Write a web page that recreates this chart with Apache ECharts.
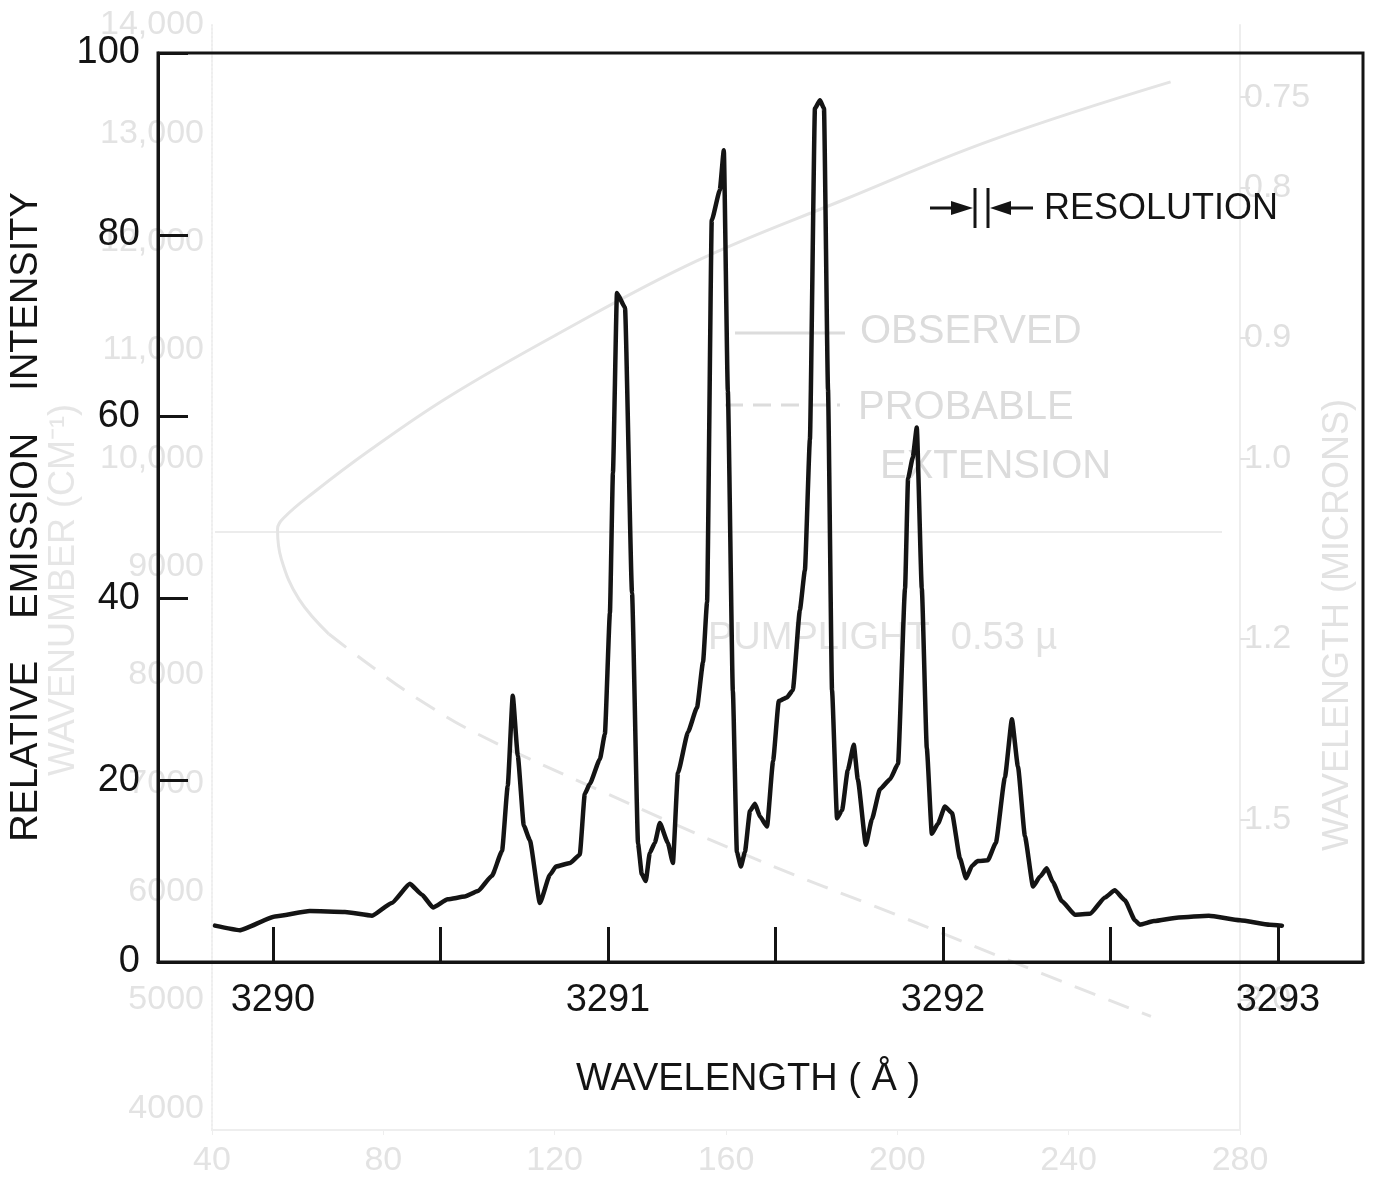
<!DOCTYPE html>
<html>
<head>
<meta charset="utf-8">
<script src="https://cdn.jsdelivr.net/npm/echarts@6/dist/echarts.min.js"></script>
<style>
  html, body { margin: 0; background: #fff; }
  #chart { width: 1375px; height: 1178px; }
</style>
</head>
<body>
<div id="chart"></div>
<script>
// emission spectrum
const wavelength = [
  3289.827, 3289.901, 3290.006, 3290.110, 3290.215, 3290.296, 3290.355, 3290.409, 3290.445, 3290.478,
  3290.522, 3290.573, 3290.612, 3290.654, 3290.684, 3290.701, 3290.716, 3290.731, 3290.749, 3290.767,
  3290.797, 3290.827, 3290.845, 3290.887, 3290.916, 3290.931, 3290.946, 3290.976, 3290.991, 3291.006,
  3291.015, 3291.027, 3291.051, 3291.072, 3291.090, 3291.101, 3291.113, 3291.125, 3291.140, 3291.155,
  3291.179, 3291.194, 3291.209, 3291.239, 3291.266, 3291.284, 3291.296, 3291.310, 3291.334, 3291.346,
  3291.358, 3291.373, 3291.385, 3291.397, 3291.409, 3291.424, 3291.439, 3291.454, 3291.475, 3291.493,
  3291.510, 3291.534, 3291.552, 3291.573, 3291.588, 3291.603, 3291.618, 3291.633, 3291.645, 3291.657,
  3291.669, 3291.684, 3291.699, 3291.716, 3291.734, 3291.746, 3291.770, 3291.788, 3291.812, 3291.842,
  3291.866, 3291.887, 3291.896, 3291.910, 3291.922, 3291.937, 3291.952, 3291.967, 3291.985, 3292.006,
  3292.027, 3292.051, 3292.069, 3292.087, 3292.104, 3292.134, 3292.158, 3292.185, 3292.206, 3292.224,
  3292.245, 3292.269, 3292.290, 3292.310, 3292.328, 3292.355, 3292.394, 3292.439, 3292.484, 3292.513,
  3292.543, 3292.573, 3292.588, 3292.630, 3292.704, 3292.794, 3292.887, 3292.976, 3293.012
];
const intensity = [
  4.0, 3.5, 5.0, 5.6, 5.5, 5.1, 6.5, 8.6, 7.4, 6.0,
  6.9, 7.2, 7.8, 9.5, 12.2, 19.4, 29.3, 22.7, 15.0, 13.4,
  6.5, 9.6, 10.5, 10.9, 11.8, 18.5, 19.6, 22.3, 25.1, 38.4,
  53.8, 73.6, 72.0, 40.6, 13.0, 9.7, 8.9, 12.0, 13.1, 15.3,
  13.1, 10.9, 20.8, 25.3, 28.0, 33.0, 39.6, 81.6, 84.9, 89.3,
  62.8, 29.8, 12.1, 10.5, 12.1, 16.6, 17.4, 16.0, 14.9, 22.1,
  28.7, 29.1, 29.9, 38.7, 43.1, 57.5, 93.9, 94.8, 93.9, 63.0,
  29.9, 15.8, 16.7, 21.1, 23.9, 20.1, 12.9, 15.7, 19.0, 20.1,
  21.8, 41.1, 53.2, 55.5, 58.8, 41.1, 23.5, 14.1, 15.2, 17.1,
  16.4, 11.4, 9.2, 10.6, 11.1, 11.2, 13.1, 20.3, 26.7, 21.5,
  13.8, 8.3, 9.4, 10.3, 8.8, 6.7, 5.2, 5.3, 7.1, 7.9,
  6.8, 4.6, 4.1, 4.5, 4.9, 5.1, 4.6, 4.1, 4.0
];
const xTicks = [3290, 3290.5, 3291, 3291.5, 3292, 3292.5, 3293];
const xLabels = [3290, 3291, 3292, 3293];

// faint show-through of the figure on the other side of the page
const ghostObsX = [263.8, 222.2, 187.5, 152.8, 120.5, 95.0, 76.5, 63.8, 56.9, 55.3, 56.2, 60.3, 67.3];
const ghostObsWn = [13475, 12940, 12387, 11816, 11143, 10562, 10065, 9687, 9456, 9346, 9069, 8700, 8378];
const ghostExtX = [67.3, 76.5, 88.1, 102.0, 129.7, 166.7, 199.1, 233.8, 259.2];
const ghostExtWn = [8378, 8101, 7779, 7456, 6949, 6304, 5797, 5244, 4848];
const ghostWnTicks = [4000, 5000, 6000, 7000, 8000, 9000, 10000, 11000, 12000, 13000, 14000];
const ghostMicrons = [0.75, 0.8, 0.9, 1.0, 1.2, 1.5, 2.0];
const ghostMicronLabels = ['0.75', '0.8', '0.9', '1.0', '1.2', '1.5', '2.0'];

const INK = '#141414';
const GHOST = '#dcdcdc';
const FONT = '"Liberation Sans", Arial, sans-serif';

const chart = echarts.init(document.getElementById('chart'), null, { renderer: 'canvas' });

chart.setOption({
  backgroundColor: '#fff',
  animation: false,
  grid: [
    { left: 158, top: 53, width: 1205, height: 909, show: true,
      borderColor: INK, borderWidth: 3, backgroundColor: 'transparent', z: 5 },
    { left: 212, top: 25, width: 1028, height: 1107, show: false, z: 0 }
  ],
  xAxis: [
    {
      gridIndex: 0, type: 'value', min: 3289.657, max: 3293.254, z: 6,
      axisLine: { lineStyle: { color: INK, width: 3 } },
      axisTick: { inside: true, length: 35, customValues: xTicks, lineStyle: { color: INK, width: 3 } },
      axisLabel: { customValues: xLabels, margin: 20, fontSize: 38, color: INK, fontFamily: FONT,
        formatter: v => String(v) },
      splitLine: { show: false }
    },
    {
      gridIndex: 1, type: 'value', min: 40, max: 280, interval: 40, z: 0,
      axisLine: { lineStyle: { color: '#eeeeee', width: 2 } },
      axisTick: { lineStyle: { color: '#eeeeee' } },
      axisLabel: { margin: 14, fontSize: 34, color: '#e3e3e3', fontFamily: FONT },
      splitLine: { show: false }
    }
  ],
  yAxis: [
    {
      gridIndex: 0, type: 'value', min: 0, max: 100, interval: 20, z: 6,
      axisLine: { lineStyle: { color: INK, width: 3 } },
      axisTick: { inside: true, length: 30, lineStyle: { color: INK, width: 3 } },
      axisLabel: { margin: 18, fontSize: 38, color: INK, fontFamily: FONT },
      splitLine: { show: false }
    },
    {
      gridIndex: 1, type: 'value', min: 3800, max: 14000, z: 0,
      axisLine: { lineStyle: { color: '#eeeeee', width: 2, type: 'dotted' } },
      axisTick: { show: false },
      axisLabel: {
        customValues: ghostWnTicks, margin: 8, fontSize: 34, color: '#e3e3e3', fontFamily: FONT,
        formatter: v => v >= 10000 ? String(v).slice(0, 2) + ',' + String(v).slice(2) : String(v)
      },
      splitLine: { show: false }
    },
    {
      gridIndex: 1, type: 'value', min: 3800, max: 14000, position: 'right', z: 0,
      axisLine: { show: true, lineStyle: { color: '#eeeeee', width: 2 } },
      axisTick: { length: 10, customValues: ghostMicrons.map(m => 1e4 / m), lineStyle: { color: '#e3e3e3', width: 2 } },
      axisLabel: {
        customValues: ghostMicrons.map(m => 1e4 / m), margin: 4, fontSize: 34, color: '#e0e0e0', fontFamily: FONT,
        formatter: v => ghostMicronLabels[ghostMicrons.findIndex(m => Math.abs(1e4 / m - v) < 1)]
      },
      splitLine: { show: false }
    }
  ],
  series: [
    {
      type: 'line', xAxisIndex: 1, yAxisIndex: 1, z: 1,
      data: ghostObsX.map((x, i) => [x, ghostObsWn[i]]),
      showSymbol: false, smooth: 0.4, silent: true,
      lineStyle: { color: '#e4e4e4', width: 3 }
    },
    {
      type: 'line', xAxisIndex: 1, yAxisIndex: 1, z: 1,
      data: ghostExtX.map((x, i) => [x, ghostExtWn[i]]),
      showSymbol: false, smooth: 0.4, silent: true,
      lineStyle: { color: '#e4e4e4', width: 3, type: [22, 14] }
    },
    {
      type: 'line', xAxisIndex: 0, yAxisIndex: 0, z: 10,
      data: wavelength.map((w, i) => [w, intensity[i]]),
      showSymbol: false, smooth: 0.15, smoothMonotone: 'x',
      lineStyle: { color: INK, width: 4.5, join: 'round', cap: 'round' }
    }
  ],
  graphic: [
    // ghost labels from the reverse page
    { type: 'text', left: 860, top: 312, z: 1, style: { text: 'OBSERVED', fontSize: 40, fontFamily: FONT, fill: GHOST } },
    { type: 'line', z: 1, shape: { x1: 735, y1: 333, x2: 845, y2: 333 }, style: { stroke: GHOST, lineWidth: 3 } },
    { type: 'text', left: 858, top: 388, z: 1, style: { text: 'PROBABLE', fontSize: 40, fontFamily: FONT, fill: GHOST } },
    { type: 'line', z: 1, shape: { x1: 725, y1: 405, x2: 840, y2: 405 }, style: { stroke: GHOST, lineWidth: 3, lineDash: [18, 10] } },
    { type: 'text', left: 880, top: 447, z: 1, style: { text: 'EXTENSION', fontSize: 40, fontFamily: FONT, fill: GHOST } },
    { type: 'text', left: 708, top: 620, z: 1, style: { text: 'PUMPLIGHT  0.53 µ', fontSize: 38, fontFamily: FONT, fill: '#e2e2e2' } },
    { type: 'line', z: 1, shape: { x1: 215, y1: 532, x2: 1222, y2: 532 }, style: { stroke: '#ececec', lineWidth: 2 } },
    { type: 'text', z: 1, x: 64, y: 590, rotation: Math.PI / 2,
      style: { text: 'WAVENUMBER (CM⁻¹)', fontSize: 36, fontFamily: FONT, fill: '#e6e6e6', align: 'center', verticalAlign: 'middle' } },
    { type: 'text', z: 1, x: 1338, y: 625, rotation: Math.PI / 2,
      style: { text: 'WAVELENGTH (MICRONS)', fontSize: 36, fontFamily: FONT, fill: '#e2e2e2', align: 'center', verticalAlign: 'middle' } },

    // axis titles
    { type: 'text', z: 20, x: 27, y: 517, rotation: Math.PI / 2,
      style: { text: 'RELATIVE    EMISSION    INTENSITY', fontSize: 38, fontFamily: FONT, fill: INK, align: 'center', verticalAlign: 'middle' } },
    { type: 'text', z: 20, x: 748, y: 1080,
      style: { text: 'WAVELENGTH ( Å )', fontSize: 38, fontFamily: FONT, fill: INK, align: 'center', verticalAlign: 'middle' } },

    // resolution marker
    { type: 'line', z: 20, shape: { x1: 930, y1: 208, x2: 960, y2: 208 }, style: { stroke: INK, lineWidth: 3 } },
    { type: 'polygon', z: 20, shape: { points: [[951, 201], [973, 208], [951, 215]] }, style: { fill: INK } },
    { type: 'line', z: 20, shape: { x1: 975, y1: 188, x2: 975, y2: 228 }, style: { stroke: INK, lineWidth: 3 } },
    { type: 'line', z: 20, shape: { x1: 988, y1: 188, x2: 988, y2: 228 }, style: { stroke: INK, lineWidth: 3 } },
    { type: 'polygon', z: 20, shape: { points: [[1011, 201], [990, 208], [1011, 215]] }, style: { fill: INK } },
    { type: 'line', z: 20, shape: { x1: 1003, y1: 208, x2: 1033, y2: 208 }, style: { stroke: INK, lineWidth: 3 } },
    { type: 'text', z: 20, x: 1044, y: 209,
      style: { text: 'RESOLUTION', fontSize: 36, fontFamily: FONT, fill: INK, align: 'left', verticalAlign: 'middle' } }
  ]
});
</script>
</body>
</html>
